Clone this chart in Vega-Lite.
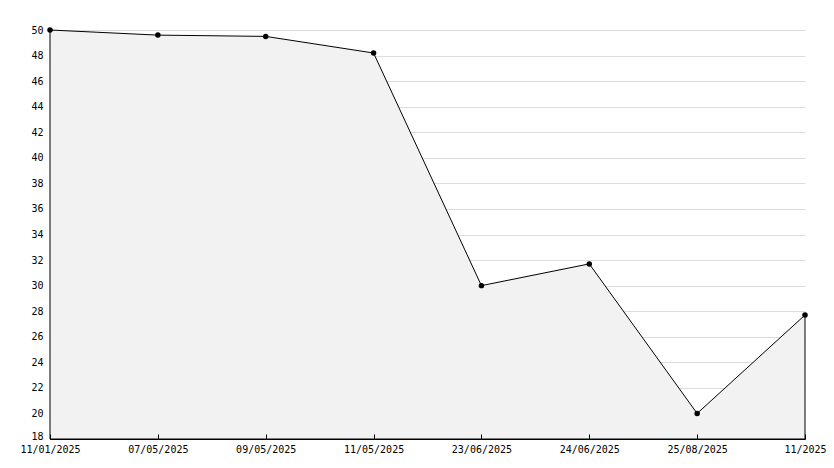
{
  "$schema": "https://vega.github.io/schema/vega-lite/v6.json",
  "width": 755,
  "height": 409,
  "autosize": {"type": "none"},
  "padding": {"left": 50, "top": 30, "right": 29, "bottom": 29},
  "background": "white",
  "config": {
    "view": {"stroke": null},
    "axis": {
      "labelFont": "DejaVu Sans Mono",
      "labelFontSize": 10,
      "labelColor": "black",
      "domainColor": "black",
      "tickColor": "black",
      "gridColor": "#dcdcdc",
      "title": null
    }
  },
  "data": {
    "values": [
      {"date": "11/01/2025", "value": 50.0},
      {"date": "07/05/2025", "value": 49.6},
      {"date": "09/05/2025", "value": 49.5},
      {"date": "11/05/2025", "value": 48.2},
      {"date": "23/06/2025", "value": 30.0},
      {"date": "24/06/2025", "value": 31.7},
      {"date": "25/08/2025", "value": 20.0},
      {"date": "11/2025", "value": 27.7}
    ]
  },
  "encoding": {
    "x": {
      "field": "date",
      "type": "ordinal",
      "sort": null,
      "scale": {"type": "point", "padding": 0},
      "axis": {"labelAngle": 0, "tickSize": -5, "labelPadding": 10, "grid": false, "zindex": 1}
    },
    "y": {
      "field": "value",
      "type": "quantitative",
      "scale": {"domain": [18, 50], "nice": false, "zero": false},
      "axis": {
        "values": [18,19,20,21,22,23,24,25,26,27,28,29,30,31,32,33,34,35,36,37,38,39,40,41,42,43,44,45,46,47,48,49,50],
        "labelExpr": "datum.value % 2 ? '' : datum.label",
        "tickSize": {"condition": {"test": "datum.value % 2", "value": -3}, "value": -5},
        "gridOpacity": {"condition": {"test": "datum.value % 2", "value": 0}, "value": 1},
        "labelOffset": {"condition": {"test": "datum.value == 18", "value": -3}, "value": 0},
        "labelPadding": 12,
        "grid": true,
        "zindex": 0
      }
    }
  },
  "layer": [
    {
      "mark": {"type": "area", "fill": "#f2f2f2", "stroke": "black", "strokeWidth": 1},
      "encoding": {"y2": {"datum": 18}}
    },
    {
      "mark": {"type": "point", "shape": "circle", "filled": true, "color": "black", "size": 30, "opacity": 1}
    }
  ]
}
